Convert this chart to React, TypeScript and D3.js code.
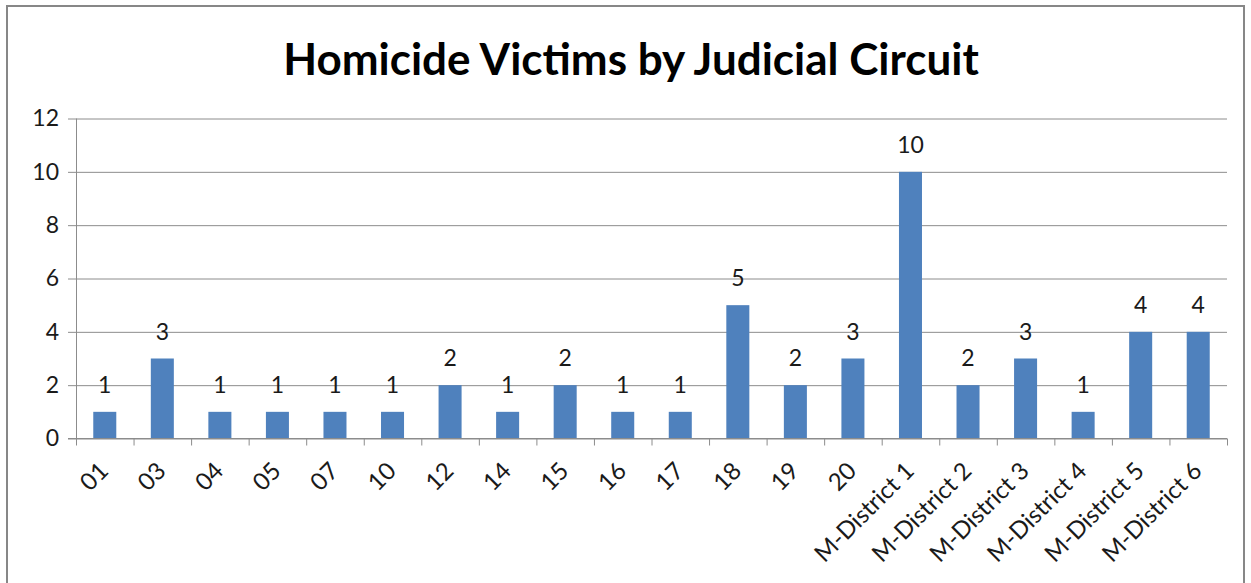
import { axisBottom, axisLeft, scaleBand, scaleLinear, select } from 'd3';
import { useEffect, useRef } from 'react';

const circuits = [
  '01', '03', '04', '05', '07', '10', '12', '14', '15', '16', '17', '18', '19', '20',
  'M-District 1', 'M-District 2', 'M-District 3', 'M-District 4', 'M-District 5', 'M-District 6',
];
const victims = [1, 3, 1, 1, 1, 1, 2, 1, 2, 1, 1, 5, 2, 3, 10, 2, 3, 1, 4, 4];
const yTicks = [0, 2, 4, 6, 8, 10, 12];

const W = 1251;
const H = 583;
const FONT = 'Lato, "Open Sans", sans-serif';

function App() {
  const svgRef = useRef<SVGSVGElement>(null);

  useEffect(() => {
    const svg = select(svgRef.current);
    svg.selectAll('*').remove();

    const left = 76, right = 1227, top = 118.5, bottom = 438.5;

    const x = scaleBand<string>()
      .domain(circuits)
      .range([left, right])
      .paddingInner(0.6)
      .paddingOuter(0.3);
    const y = scaleLinear() //
      .domain([0, 12])
      .range([bottom, top]);

    // outer frame
    svg
      .append('rect')
      .attr('x', 7)
      .attr('y', 6)
      .attr('width', 1237)
      .attr('height', 620)
      .attr('fill', 'white')
      .attr('stroke', '#878787')
      .attr('stroke-width', 2);

    svg
      .append('text')
      .attr('x', 631)
      .attr('y', 75)
      .attr('text-anchor', 'middle')
      .style('font-family', FONT)
      .style('font-weight', 'bold')
      .style('font-size', '44px')
      .attr('fill', '#000')
      .text('Homicide Victims by Judicial Circuit');

    // gridlines + y axis
    const yAxis = axisLeft(y)
      .tickValues(yTicks)
      .tickSize(-(right - left))
      .tickSizeOuter(0)
      .tickPadding(17);
    const yg = svg.append('g').attr('transform', `translate(${left},0)`).call(yAxis);
    yg.select('.domain').remove();
    yg.selectAll('.tick line')
      .attr('x1', -8)
      .attr('stroke', '#8c8c8c')
      .attr('stroke-width', 1);
    yg.selectAll('.tick text')
      .style('font-family', FONT)
      .style('font-size', '23px')
      .attr('fill', '#1a1a1a');

    svg
      .append('line')
      .attr('x1', left + 0.5)
      .attr('x2', left + 0.5)
      .attr('y1', top)
      .attr('y2', bottom)
      .attr('stroke', '#8c8c8c');

    // bars
    svg
      .selectAll('.bar')
      .data(victims)
      .join('rect')
      .attr('class', 'bar')
      .attr('x', (d, i) => x(circuits[i])!)
      .attr('y', d => y(d))
      .attr('width', x.bandwidth())
      .attr('height', d => bottom - y(d))
      .attr('fill', '#4f81bd');

    svg
      .selectAll('.val')
      .data(victims)
      .join('text')
      .attr('class', 'val')
      .attr('x', (d, i) => x(circuits[i])! + x.bandwidth() / 2)
      .attr('y', d => y(d) - 19)
      .attr('text-anchor', 'middle')
      .style('font-family', FONT)
      .style('font-size', '23px')
      .attr('fill', '#1a1a1a')
      .text(d => d);

    // x axis with ticks between categories
    const step = x.step();
    const xg = svg.append('g').attr('transform', `translate(0,${bottom})`).call(axisBottom(x).tickSize(0).tickFormat(() => ''));
    xg.select('.domain').attr('stroke', '#8c8c8c').attr('d', `M${left - 8},0H${right}`);
    xg.selectAll('.sep')
      .data([...circuits.map((c, i) => i), circuits.length])
      .join('line')
      .attr('class', 'sep')
      .attr('x1', i => left + 0.5 + i * step)
      .attr('x2', i => left + 0.5 + i * step)
      .attr('y1', 0)
      .attr('y2', 7)
      .attr('stroke', '#8c8c8c');

    svg
      .selectAll('.xlab')
      .data(circuits)
      .join('text')
      .attr('class', 'xlab')
      .attr('text-anchor', 'end')
      .attr('transform', d => `translate(${x(d)! + x.bandwidth() / 2 + 5},${bottom + 34}) rotate(-45)`)
      .style('font-family', FONT)
      .style('font-size', '24px')
      .attr('fill', '#1a1a1a')
      .text(d => d);
  }, []);

  return (
    <svg
      ref={svgRef}
      width={W}
      height={H}
      style={{ position: 'absolute', left: 0, top: 0, background: 'white' }}
    />
  );
}

export default App;
